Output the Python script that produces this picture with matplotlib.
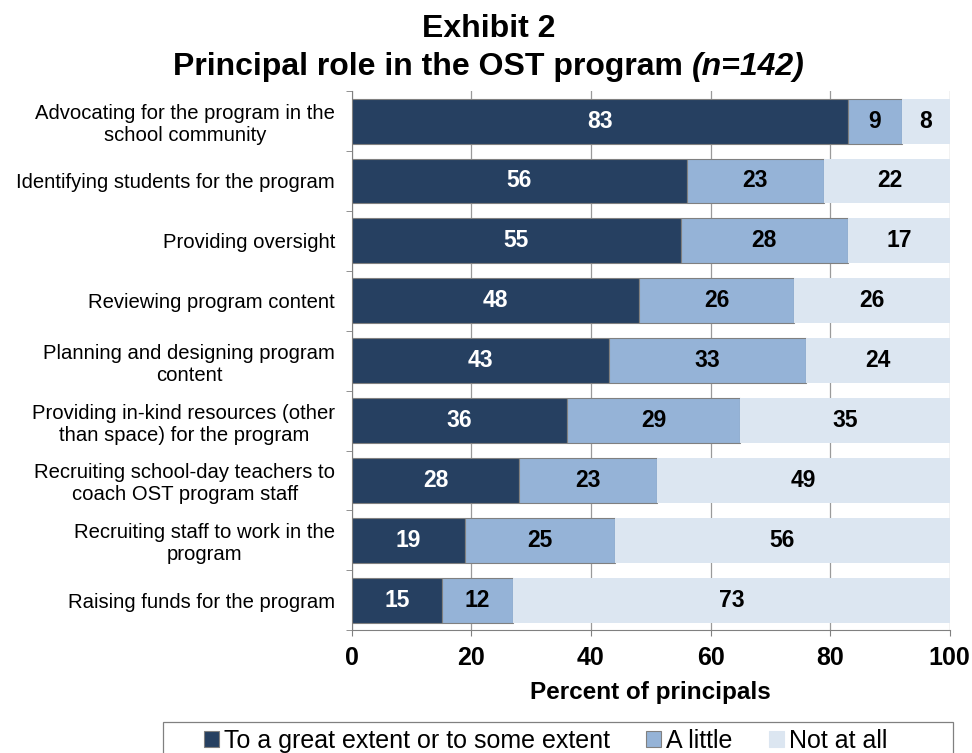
import matplotlib
matplotlib.use("Agg")
import matplotlib.pyplot as plt
import numpy as np
from matplotlib.patches import Patch, Rectangle

plt.rcParams["font.family"] = ["Liberation Sans", "DejaVu Sans"]

roles = [
    "Advocating for the program in the\nschool community",
    "Identifying students for the program",
    "Providing oversight",
    "Reviewing program content",
    "Planning and designing program\ncontent",
    "Providing in-kind resources (other\nthan space) for the program",
    "Recruiting school-day teachers to\ncoach OST program staff",
    "Recruiting staff to work in the\nprogram",
    "Raising funds for the program",
]
great_extent = [83, 56, 55, 48, 43, 36, 28, 19, 15]
a_little = [9, 23, 28, 26, 33, 29, 23, 25, 12]
not_at_all = [8, 22, 17, 26, 24, 35, 49, 56, 73]

series_names = ["To a great extent or to some extent", "A little", "Not at all"]
colors = ["#264061", "#95B3D7", "#DCE6F1"]
edges = ["#808080", "#808080", "none"]
text_colors = ["white", "black", "black"]

fig = plt.figure(figsize=(9.72, 7.53), dpi=100)
ax = fig.add_axes([0.362, 0.163, 0.615, 0.716])

y = np.arange(len(roles))
left = np.zeros(len(roles))
for vals, name, col, ec, tc in zip([great_extent, a_little, not_at_all],
                                   series_names, colors, edges, text_colors):
    vals = np.array(vals, dtype=float)
    ax.barh(y, vals, left=left, height=0.75, color=col, edgecolor=ec,
            linewidth=0.8, label=name, zorder=3)
    for yi, l, v in zip(y, left, vals):
        ax.text(l + v / 2, yi, f"{v:.0f}", ha="center", va="center",
                fontsize=16.5, fontweight="bold", color=tc, zorder=4)
    left += vals

ax.set_xlim(0, 100)
ax.set_ylim(len(roles) - 0.5, -0.5)
ax.set_xticks(np.arange(0, 101, 20))
ax.set_xticklabels([str(v) for v in range(0, 101, 20)], fontsize=18, fontweight="bold")
ax.set_yticks(y)
ax.set_yticklabels(roles, fontsize=14.6, linespacing=1.2)
for lbl in ax.get_yticklabels():
    lbl.set_multialignment("center")
ax.set_yticks(np.arange(-0.5, len(roles)), minor=True)
ax.tick_params(axis="y", which="major", length=0, pad=12)
ax.tick_params(axis="y", which="minor", length=4.5, color="#808080", direction="out")
ax.tick_params(axis="x", length=4.5, color="#808080", pad=7)
ax.grid(axis="x", color="#9a9a9a", linewidth=0.9, zorder=0)
for side in ("top", "right"):
    ax.spines[side].set_visible(False)
for side in ("left", "bottom"):
    ax.spines[side].set_color("#808080")

ax.set_xlabel("Percent of principals", fontsize=17.5, fontweight="bold", labelpad=8)

# title: bold line with an italic sample size tacked on
fig.text(0.503, 0.961, "Exhibit 2", ha="center", va="center",
         fontsize=23, fontweight="bold")
fig.canvas.draw()
renderer = fig.canvas.get_renderer()
t1 = fig.text(0, 0.911, "Principal role in the OST program ", ha="left", va="center",
              fontsize=23, fontweight="bold")
t2 = fig.text(0, 0.911, "(n=142)", ha="left", va="center",
              fontsize=23, fontweight="bold", style="italic")
w1 = t1.get_window_extent(renderer).width / fig.bbox.width
w2 = t2.get_window_extent(renderer).width / fig.bbox.width
x0 = 0.503 - (w1 + w2) / 2
t1.set_x(x0)
t2.set_x(x0 + w1)

# legend box runs past the bottom edge of the figure
fig.patches.append(Rectangle((0.168, -0.05), 0.812, 0.091, transform=fig.transFigure,
                             facecolor="white", edgecolor="#808080", linewidth=0.9,
                             zorder=1))
handles = [Patch(facecolor=c, edgecolor=e if e != "none" else c, linewidth=0.8)
           for c, e in zip(colors, edges)]
leg = fig.legend(handles, series_names, loc="center left", ncol=3,
                 bbox_to_anchor=(0.197, 0.016), fontsize=18,
                 frameon=False, handlelength=0.6, handleheight=0.6,
                 handletextpad=0.2, columnspacing=1.45, borderpad=0.0)
leg.set_zorder(2)

fig.savefig("out.png", dpi=100)
